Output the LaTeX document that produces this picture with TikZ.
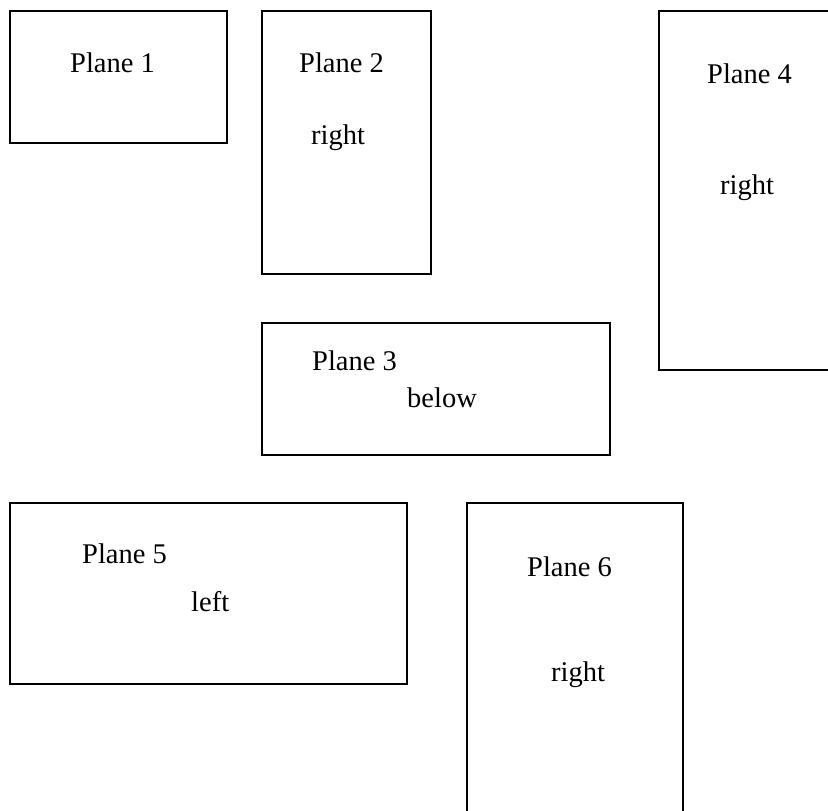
\documentclass[tikz,border=0pt]{standalone}
\usepackage{fontspec}
\setmainfont{Liberation Serif}
\begin{document}
\begin{tikzpicture}[x=1pt,y=-1pt,
  plane/.style={draw=black,line width=1.8pt,inner sep=0pt,outer sep=0pt},
  lbl/.style={anchor=base west,inner sep=0pt,font=\fontsize{28.5}{33}\selectfont}]
\useasboundingbox (0,0) rectangle (828,811);
\clip (0,0) rectangle (828,811);
\draw[plane] (10,11) rectangle (227,143);
\draw[plane] (262,11) rectangle (431,274);
\draw[plane] (659,11) rectangle (860,370);
\draw[plane] (262,323) rectangle (610,455);
\draw[plane] (10,503) rectangle (407,684);
\draw[plane] (467,503) rectangle (683,840);
\node[lbl] (t1) at (70,72) {Plane 1};
\node[lbl] (t2) at (299,72) {Plane 2};
\node[lbl] (r2) at (311,144) {right};
\node[lbl] (t4) at (707,83) {Plane 4};
\node[lbl] (r4) at (720,194) {right};
\node[lbl] (t3) at (312,370) {Plane 3};
\node[lbl] (b3) at (407,407) {below};
\node[lbl] (t5) at (82,563) {Plane 5};
\node[lbl] (l5) at (191,611) {left};
\node[lbl] (t6) at (527,576) {Plane 6};
\node[lbl] (r6) at (551,681) {right};
\end{tikzpicture}
\end{document}
